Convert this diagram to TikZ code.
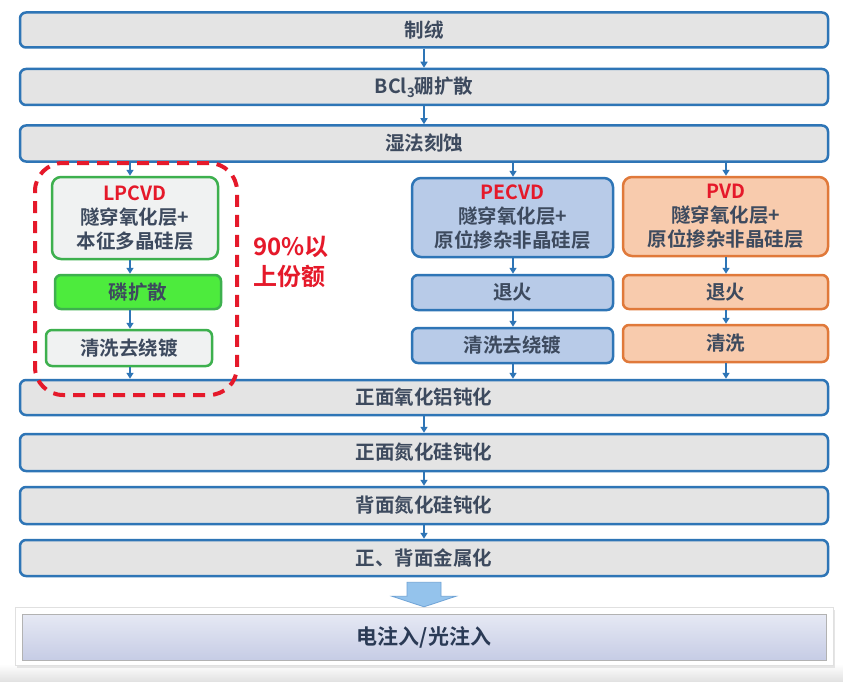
\documentclass[tikz,border=0pt]{standalone}
\usepackage{fontspec}
\setmainfont{Noto Sans CJK SC}[BoldFont={Noto Sans CJK SC Bold}]
\usetikzlibrary{arrows.meta,calc}
\definecolor{barblue}{HTML}{2E75B6}
\definecolor{barfill}{HTML}{E4E4E4}
\definecolor{txt}{HTML}{3D4A5E}
\definecolor{lpred}{HTML}{E5192A}
\definecolor{grnb}{HTML}{3DB04E}
\definecolor{grnfill}{HTML}{4DEB3D}
\definecolor{lpfill}{HTML}{F0F2F2}
\definecolor{pefill}{HTML}{B8CBE8}
\definecolor{pvfill}{HTML}{F8CBAD}
\definecolor{pvb}{HTML}{E0793A}
\definecolor{arrfill}{HTML}{94C3EC}
\definecolor{arrb}{HTML}{6FA3D6}
\definecolor{navy}{HTML}{2A3A55}
\definecolor{injtop}{HTML}{E6E9F4}
\definecolor{injbot}{HTML}{C6CCE5}
\tikzset{
  box/.style={rounded corners=6pt, inner sep=0pt, align=center, text=txt,
    font=\bfseries\fontsize{19.5}{24}\selectfont},
  bar/.style={box, draw=barblue, line width=2.5pt, fill=barfill, minimum width=808pt},
  lpbox/.style={box, draw=grnb, line width=2.5pt, fill=lpfill, minimum width=166pt, rounded corners=9pt},
  phbox/.style={box, draw=grnb, line width=2.5pt, fill=grnfill, minimum width=166pt},
  pebox/.style={box, draw=barblue, line width=2.5pt, fill=pefill, minimum width=201pt, rounded corners=9pt},
  pvbox/.style={box, draw=pvb, line width=2.5pt, fill=pvfill, minimum width=205pt, rounded corners=9pt},
  flow/.style={-{Triangle[length=6pt,width=7pt]}, draw=barblue, line width=1.5pt}
}
\begin{document}
\begin{tikzpicture}[x=1pt,y=-1pt]
\useasboundingbox (0,0) rectangle (843,682);
\fill[white] (0,0) rectangle (843,682);
\shade[top color=white, bottom color=black!12] (0,664) rectangle (843,682);
% main bars
\node[bar, minimum height=35pt] (b1) at (424,30) {制绒};
\node[bar, minimum height=36pt] (b2) at (424,87) {BCl\raisebox{-4pt}{\fontsize{13}{13}\selectfont 3}硼扩散};
\node[bar, minimum height=36pt] (b3) at (424,143.5) {湿法刻蚀};
\node[bar, minimum height=35pt] (b4) at (424,397.5) {正面氧化铝钝化};
\node[bar, minimum height=37pt] (b5) at (424,452.5) {正面氮化硅钝化};
\node[bar, minimum height=37pt] (b6) at (424,505.5) {背面氮化硅钝化};
\node[bar, minimum height=36pt] (b7) at (424,558) {正、背面金属化};
% LPCVD branch
\node[lpbox, minimum height=82pt] (lp) at (135,218) {{\color{lpred}LPCVD}\\隧穿氧化层+\\本征多晶硅层};
\node[phbox, minimum height=34pt] (ph) at (138,292) {磷扩散};
\node[lpbox, minimum height=36pt, rounded corners=6pt] (lc) at (129,348) {清洗去绕镀};
% PECVD branch
\node[pebox, minimum height=79pt] (pe) at (512.5,217.5) {{\color{lpred}PECVD}\\隧穿氧化层+\\原位掺杂非晶硅层};
\node[pebox, minimum height=35pt, rounded corners=6pt] (pa) at (512.5,292.5) {退火};
\node[pebox, minimum height=35pt, rounded corners=6pt] (pc) at (512.5,345.5) {清洗去绕镀};
% PVD branch
\node[pvbox, minimum height=79pt] (pv) at (725.5,216.5) {{\color{lpred}PVD}\\隧穿氧化层+\\原位掺杂非晶硅层};
\node[pvbox, minimum height=34pt, rounded corners=6pt] (va) at (725.5,292) {退火};
\node[pvbox, minimum height=37pt, rounded corners=6pt] (vc) at (725.5,343.5) {清洗};
% dashed group and share label
\node[draw=lpred, line width=4pt, dash pattern=on 12pt off 8pt, rounded corners=28pt,
      minimum width=202pt, minimum height=232pt, inner sep=0pt] (grp) at (136,279) {};
\node[anchor=west, align=left, text=lpred, font=\bfseries\fontsize{24}{30}\selectfont] (share) at (250,262) {90\%以\\上份额};
% x positions of connectors
\coordinate (xm) at (424,0);
\coordinate (xl) at (130,0);
\coordinate (xp) at (513,0);
\coordinate (xv) at (726,0);
\draw[flow] (b1.south -| xm) -- (b2.north -| xm);
\draw[flow] (b2.south -| xm) -- (b3.north -| xm);
\draw[flow] (b3.south -| xl) -- (lp.north -| xl);
\draw[flow] (lp.south -| xl) -- (ph.north -| xl);
\draw[flow] (ph.south -| xl) -- (lc.north -| xl);
\draw[flow] (lc.south -| xl) -- (b4.north -| xl);
\draw[flow] (b3.south -| xp) -- (pe.north -| xp);
\draw[flow] (pe.south -| xp) -- (pa.north -| xp);
\draw[flow] (pa.south -| xp) -- (pc.north -| xp);
\draw[flow] (pc.south -| xp) -- (b4.north -| xp);
\draw[flow] (b3.south -| xv) -- (pv.north -| xv);
\draw[flow] (pv.south -| xv) -- (va.north -| xv);
\draw[flow] (va.south -| xv) -- (vc.north -| xv);
\draw[flow] (vc.south -| xv) -- (b4.north -| xv);
\draw[flow] (b4.south -| xm) -- (b5.north -| xm);
\draw[flow] (b5.south -| xm) -- (b6.north -| xm);
\draw[flow] (b6.south -| xm) -- (b7.north -| xm);
% final box
\fill[black!10] (17,610) rectangle (835,668);
\node[draw=black!12, fill=white, minimum width=818pt, minimum height=58pt, inner sep=0pt] (frame) at (424,636) {};
\node[draw=black!30, line width=0.8pt, top color=injtop, bottom color=injbot,
      minimum width=804pt, minimum height=46pt, inner sep=0pt, text=navy,
      font=\bfseries\fontsize{21}{24}\selectfont] (inj) at (424,637) {电注入/光注入};
% block arrow
\draw[draw=arrb, fill=arrfill, line width=0.8pt]
  ($(b7.south)+(-17,5)$) -- ($(b7.south)+(17,5)$) -- ($(b7.south)+(17,19)$) -- ($(b7.south)+(32,19)$)
  -- (frame.north) -- ($(b7.south)+(-32,19)$) -- ($(b7.south)+(-17,19)$) -- cycle;
\end{tikzpicture}
\end{document}
